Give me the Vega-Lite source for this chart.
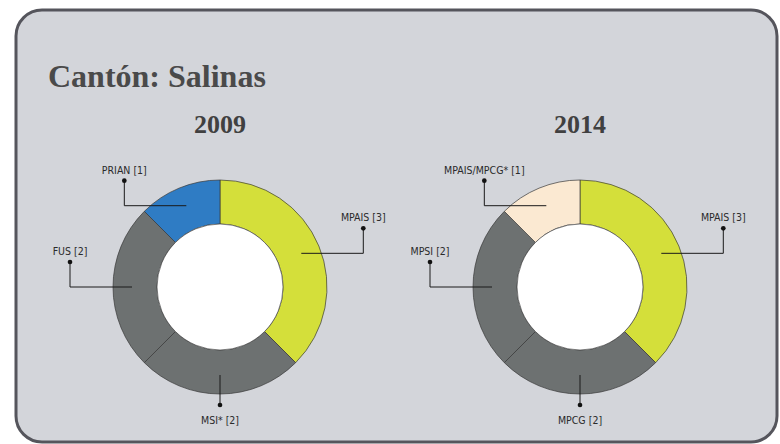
{
  "$schema": "https://vega.github.io/schema/vega-lite/v6.json",
  "width": 761,
  "height": 432,
  "autosize": {"type": "none"},
  "padding": {"left": 16, "top": 10, "right": 3, "bottom": 2},
  "background": "#ffffff",
  "config": {
    "view": {"fill": "#d3d5da", "stroke": "#55555c", "strokeWidth": 3, "cornerRadius": 26}
  },
  "title": {
    "text": "Cantón: Salinas",
    "anchor": "start",
    "frame": "group",
    "orient": "top",
    "offset": -84,
    "dx": 32,
    "font": "Liberation Serif",
    "fontWeight": "bold",
    "fontSize": 32,
    "color": "#4a4a4a"
  },
  "data": {
    "values": [
      {"year": "2009", "party": "MPAIS", "seats": 3, "order": 1},
      {"year": "2009", "party": "MSI*", "seats": 2, "order": 2},
      {"year": "2009", "party": "FUS", "seats": 2, "order": 3},
      {"year": "2009", "party": "PRIAN", "seats": 1, "order": 4},
      {"year": "2014", "party": "MPAIS", "seats": 3, "order": 1},
      {"year": "2014", "party": "MPCG", "seats": 2, "order": 2},
      {"year": "2014", "party": "MPSI", "seats": 2, "order": 3},
      {"year": "2014", "party": "MPAIS/MPCG*", "seats": 1, "order": 4}
    ]
  },
  "transform": [
    {"window": [{"op": "sum", "field": "seats", "as": "cum"}], "groupby": ["year"], "sort": [{"field": "order"}], "frame": [null, 0]},
    {"joinaggregate": [{"op": "sum", "field": "seats", "as": "total"}], "groupby": ["year"]},
    {"calculate": "(datum.cum - datum.seats) / datum.total", "as": "t0"},
    {"calculate": "datum.cum / datum.total", "as": "t1"},
    {"calculate": "PI * (datum.t0 + datum.t1)", "as": "mid"},
    {"calculate": "datum.year == '2009' ? 220 : 580", "as": "cx"},
    {"calculate": "287", "as": "cy"},
    {"calculate": "datum.cx + 88 * sin(datum.mid)", "as": "ax"},
    {"calculate": "datum.cy - 88 * cos(datum.mid)", "as": "ay"},
    {"calculate": "cos(datum.mid) < -0.7", "as": "bottom"},
    {"calculate": "datum.bottom ? datum.cx : datum.ax + (sin(datum.mid) >= 0 ? 62 : -62)", "as": "dx"},
    {"calculate": "datum.bottom ? datum.cy + 118 : datum.ay - 25", "as": "dy"},
    {"calculate": "datum.bottom ? datum.ax : datum.dx", "as": "ex"},
    {"calculate": "datum.bottom ? datum.dy + 19 : datum.dy - 7", "as": "ly"},
    {"calculate": "datum.party + ' [' + datum.seats + ']'", "as": "label"},
    {"calculate": "datum.cy - 154", "as": "yy"}
  ],
  "layer": [
    {
      "mark": {"type": "arc", "radius": 107, "radius2": 63, "stroke": "#3a3a3a", "strokeWidth": 0.7},
      "encoding": {
        "x": {"field": "cx", "type": "quantitative", "scale": {"domain": [16, 777], "nice": false, "zero": false}, "axis": null},
        "y": {"field": "cy", "type": "quantitative", "scale": {"domain": [10, 442], "nice": false, "zero": false, "reverse": true}, "axis": null},
        "theta": {"field": "t0", "type": "quantitative", "scale": {"domain": [0, 1], "range": [0, 6.283185307]}},
        "theta2": {"field": "t1"},
        "color": {
          "field": "party",
          "type": "nominal",
          "scale": {
            "domain": ["MPAIS", "MSI*", "FUS", "PRIAN", "MPCG", "MPSI", "MPAIS/MPCG*"],
            "range": ["#d4df3a", "#6d7171", "#6d7171", "#2f7cc4", "#6d7171", "#6d7171", "#fbe9d2"]
          },
          "legend": null
        }
      }
    },
    {
      "transform": [{"filter": "datum.order == 1"}],
      "mark": {"type": "point", "shape": "circle", "filled": true, "fill": "#ffffff", "fillOpacity": 1, "size": 15876, "stroke": "#4a4a4a", "strokeWidth": 0.7, "strokeOpacity": 1},
      "encoding": {
        "x": {"field": "cx", "type": "quantitative", "axis": null},
        "y": {"field": "cy", "type": "quantitative", "axis": null}
      }
    },
    {
      "mark": {"type": "rule", "color": "#1a1a1a", "strokeWidth": 1},
      "encoding": {
        "x": {"field": "ax", "type": "quantitative", "axis": null},
        "y": {"field": "ay", "type": "quantitative", "axis": null},
        "x2": {"field": "ex"},
        "y2": {"field": "ay"}
      }
    },
    {
      "mark": {"type": "rule", "color": "#1a1a1a", "strokeWidth": 1},
      "encoding": {
        "x": {"field": "ex", "type": "quantitative", "axis": null},
        "y": {"field": "ay", "type": "quantitative", "axis": null},
        "x2": {"field": "dx"},
        "y2": {"field": "dy"}
      }
    },
    {
      "mark": {"type": "point", "shape": "circle", "filled": true, "color": "#111111", "size": 22, "opacity": 1},
      "encoding": {
        "x": {"field": "dx", "type": "quantitative", "axis": null},
        "y": {"field": "dy", "type": "quantitative", "axis": null}
      }
    },
    {
      "mark": {"type": "text", "align": "center", "baseline": "alphabetic", "font": "Liberation Sans Narrow, DejaVu Sans Condensed, Roboto Condensed, Arial Narrow, sans-serif", "fontSize": 10.5, "color": "#2a2a2a"},
      "encoding": {
        "x": {"field": "dx", "type": "quantitative", "axis": null},
        "y": {"field": "ly", "type": "quantitative", "axis": null},
        "text": {"field": "label"}
      }
    },
    {
      "transform": [{"filter": "datum.order == 1"}],
      "mark": {"type": "text", "align": "center", "baseline": "alphabetic", "font": "Liberation Serif", "fontWeight": "bold", "fontSize": 26, "color": "#404040"},
      "encoding": {
        "x": {"field": "cx", "type": "quantitative", "axis": null},
        "y": {"field": "yy", "type": "quantitative", "axis": null},
        "text": {"field": "year"}
      }
    }
  ]
}
